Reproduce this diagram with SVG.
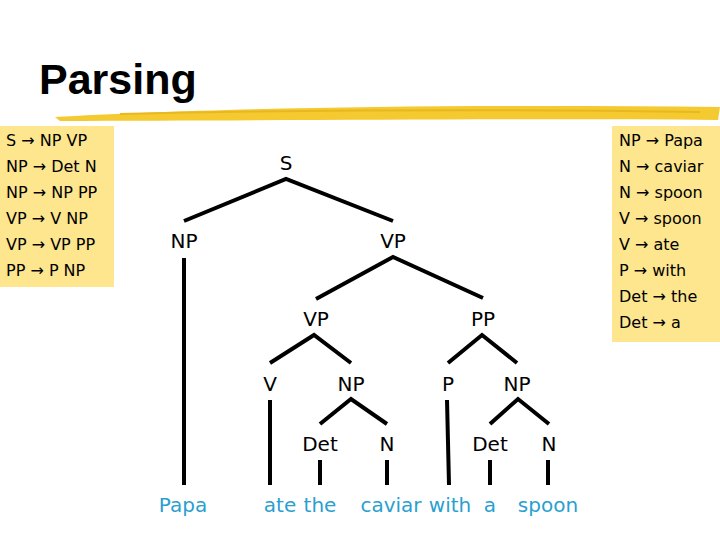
<svg xmlns="http://www.w3.org/2000/svg" width="720" height="540" viewBox="0 0 720 540">
<style>
.t{font-family:"DejaVu Sans",sans-serif;font-size:20px;fill:#000;text-anchor:middle}
.w{font-family:"DejaVu Sans",sans-serif;font-size:20px;fill:#2a9fd0;text-anchor:middle}
.r{font-family:"DejaVu Sans",sans-serif;font-size:16px;fill:#000}
.e{stroke:#000;stroke-width:4;fill:none}
</style>
<rect width="720" height="540" fill="#fff"/>
<text x="39" y="94" font-family="Liberation Sans,sans-serif" font-weight="bold" font-size="43" fill="#000">Parsing</text>
<path d="M55,117 C200,108 450,104 720,107 L718,120 C500,118 250,121 60,121 Z" fill="#f5c930"/>
<path d="M120,114 C300,110 500,109 700,112" stroke="#e8b820" stroke-width="2" fill="none"/>
<g id="rules-left">
<rect x="0" y="126" width="114" height="161" fill="#fde68e"/>
<text class="r" x="6" y="146">S → NP VP</text>
<text class="r" x="6" y="172">NP → Det N</text>
<text class="r" x="6" y="198">NP → NP PP</text>
<text class="r" x="6" y="224">VP → V NP</text>
<text class="r" x="6" y="250">VP → VP PP</text>
<text class="r" x="6" y="276">PP → P NP</text>
</g>
<g id="rules-right">
<rect x="612" y="126" width="108" height="216" fill="#fde68e"/>
<text class="r" x="619" y="146">NP → Papa</text>
<text class="r" x="619" y="172">N → caviar</text>
<text class="r" x="619" y="198">N → spoon</text>
<text class="r" x="619" y="224">V → spoon</text>
<text class="r" x="619" y="250">V → ate</text>
<text class="r" x="619" y="276">P → with</text>
<text class="r" x="619" y="302">Det → the</text>
<text class="r" x="619" y="328">Det → a</text>
</g>
<g id="connectors">
<path class="e" d="M184,221 L286,179 L393,221"/>
<path class="e" d="M184,258 V485"/>
<path class="e" d="M316,299 L393,257 L483,298"/>
<path class="e" d="M270,363 L314,335 L351,363"/>
<path class="e" d="M448,363 L482,335 L517,363"/>
<path class="e" d="M270,400 V485"/>
<path class="e" d="M447,400 L449,485"/>
<path class="e" d="M320,424 L351,399 L387,424"/>
<path class="e" d="M490,424 L518,399 L549,424"/>
<path class="e" d="M320,460 V485 M387,460 V485 M490,460 V485 M548,460 V485"/>
</g>
<g id="n-S"><text class="t" x="286" y="170">S</text></g>
<g id="n-NP"><text class="t" x="184" y="248">NP</text></g>
<g id="n-VP"><text class="t" x="393" y="248">VP</text></g>
<g id="n-VP2"><text class="t" x="316" y="326">VP</text></g>
<g id="n-PP"><text class="t" x="483" y="326">PP</text></g>
<g id="n-V"><text class="t" x="270" y="391">V</text></g>
<g id="n-NP2"><text class="t" x="351" y="391">NP</text></g>
<g id="n-P"><text class="t" x="448" y="391">P</text></g>
<g id="n-NP3"><text class="t" x="517" y="391">NP</text></g>
<g id="n-Det1"><text class="t" x="320" y="451">Det</text></g>
<g id="n-N1"><text class="t" x="387" y="451">N</text></g>
<g id="n-Det2"><text class="t" x="490" y="451">Det</text></g>
<g id="n-N2"><text class="t" x="549" y="451">N</text></g>
<g id="words">
<text class="w" x="183" y="512">Papa</text>
<text class="w" x="280" y="512">ate</text>
<text class="w" x="320" y="512">the</text>
<text class="w" x="391" y="512">caviar</text>
<text class="w" x="450" y="512">with</text>
<text class="w" x="490" y="512">a</text>
<text class="w" x="548" y="512">spoon</text>
</g>
</svg>
